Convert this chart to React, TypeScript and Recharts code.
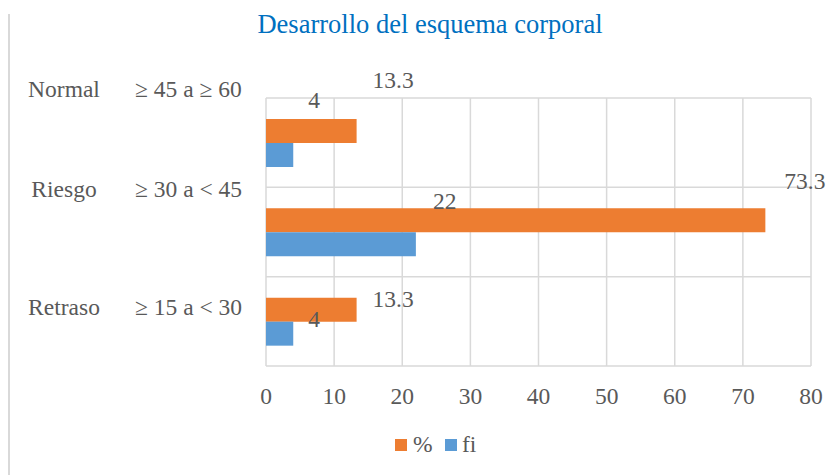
import { Bar, BarChart, CartesianGrid, LabelList, XAxis, YAxis } from "recharts";

const levels = ["Normal", "Riesgo", "Retraso"];
const ranges = ["≥ 45 a ≥ 60", "≥ 30 a < 45", "≥ 15 a < 30"];
const pct = [13.3, 73.3, 13.3];
const fi = [4, 22, 4];
const xTicks = [0, 10, 20, 30, 40, 50, 60, 70, 80];

const data = levels.map((name, i) => ({ name, range: ranges[i], pct: pct[i], fi: fi[i] }));

const FONT = "Liberation Serif";
const TEXT = "#595959";
const ORANGE = "#ED7D31";
const BLUE = "#5B9BD5";
const GRID = "#D9D9D9";
const txt = { fontFamily: FONT, fontSize: 23.5 };

// Excel put the labels a bit off their bars; keep that look
const tickShift = [-45.5, -35, -6.5];
const pctNudge = [
  { dx: 16, dy: -31 },
  { dx: 19, dy: -19 },
  { dx: 16, dy: 9 },
];
const fiNudge = [
  { dx: 15, dy: -35 },
  { dx: 17, dy: -23 },
  { dx: 15, dy: 5 },
];

function CategoryTick(props: any) {
  const { y, payload } = props;
  const i = levels.indexOf(payload.value);
  const base = y + (tickShift[i] ?? 0);
  return (
    <g>
      <text x={64} y={base} textAnchor="middle" style={txt} fill={TEXT}>
        {payload.value}
      </text>
      <text x={135} y={base} textAnchor="start" style={txt} fill={TEXT}>
        {ranges[i]}
      </text>
    </g>
  );
}

function ValueTick(props: any) {
  const { x, y, payload } = props;
  return (
    <text x={x} y={y + 38} textAnchor="middle" style={txt} fill={TEXT}>
      {payload.value}
    </text>
  );
}

function makeLabel(nudge: { dx: number; dy: number }[]) {
  return (props: any) => {
    const { x, y, width, value, index } = props;
    const n = nudge[index] ?? { dx: 4, dy: 0 };
    return (
      <text x={Number(x) + Number(width) + n.dx} y={Number(y) + n.dy} textAnchor="start" style={txt} fill={TEXT}>
        {value}
      </text>
    );
  };
}

export default function App() {
  return (
    <div style={{ position: "absolute", left: 0, top: 0, width: 840, height: 475, background: "#fff" }}>
      <div style={{ position: "absolute", left: 8, top: 14, width: 2, height: 461, background: GRID }} />
      <BarChart
        width={840}
        height={475}
        data={data}
        layout="vertical"
        margin={{ top: 98, right: 29, bottom: 69, left: 0 }}
        barGap={0}
      >
        <CartesianGrid
          stroke={GRID}
          strokeWidth={1.5}
          horizontalCoordinatesGenerator={({ offset }: any) =>
            [0, 1, 2, 3].map((k) => offset.top + (k * offset.height) / 3)
          }
        />
        <XAxis
          type="number"
          domain={[0, 80]}
          ticks={xTicks}
          interval={0}
          height={40}
          axisLine={false}
          tickLine={false}
          tickSize={0}
          tickMargin={0}
          tick={<ValueTick />}
        />
        <YAxis
          type="category"
          dataKey="name"
          width={266}
          axisLine={false}
          tickLine={false}
          tickSize={0}
          tick={<CategoryTick />}
        />
        <Bar dataKey="pct" name="%" fill={ORANGE} barSize={24} isAnimationActive={false}>
          <LabelList dataKey="pct" content={makeLabel(pctNudge)} />
        </Bar>
        <Bar dataKey="fi" name="fi" fill={BLUE} barSize={24} isAnimationActive={false}>
          <LabelList dataKey="fi" content={makeLabel(fiNudge)} />
        </Bar>
      </BarChart>
      <svg width={840} height={475} style={{ position: "absolute", left: 0, top: 0, pointerEvents: "none" }}>
        <text x={430} y={33} textAnchor="middle" style={{ fontFamily: FONT, fontSize: 26.5 }} fill="#0070C0">
          Desarrollo del esquema corporal
        </text>
        <rect x={395} y={439} width={12} height={12} fill={ORANGE} />
        <text x={413} y={452} style={txt} fill={TEXT}>
          %
        </text>
        <rect x={445} y={439} width={12} height={12} fill={BLUE} />
        <text x={462} y={452} style={txt} fill={TEXT}>
          fi
        </text>
      </svg>
    </div>
  );
}
